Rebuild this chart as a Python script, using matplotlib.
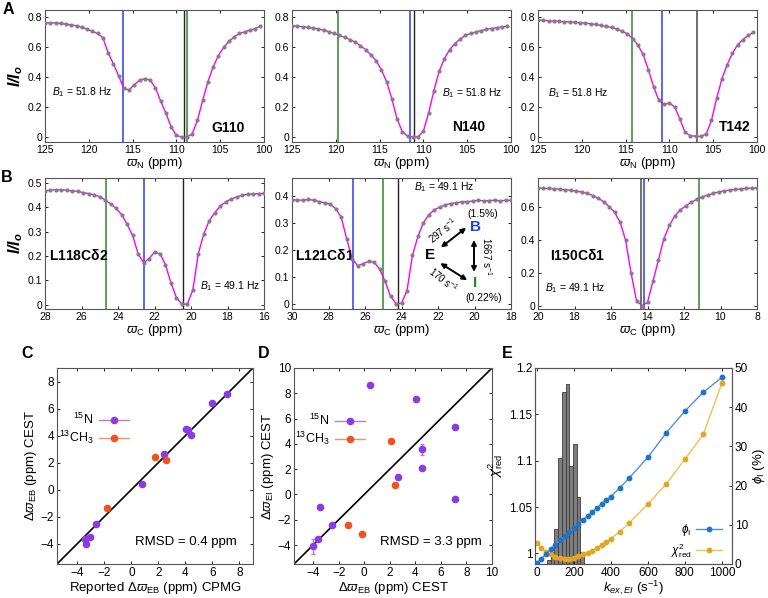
import numpy as np
import matplotlib
matplotlib.use('Agg')
import matplotlib.pyplot as plt
from matplotlib.lines import Line2D
from matplotlib.ticker import FormatStrFormatter

plt.rcParams['font.family'] = ['Liberation Sans', 'DejaVu Sans']
plt.rcParams['mathtext.fontset'] = 'custom'
plt.rcParams['mathtext.rm'] = 'Liberation Sans'
plt.rcParams['mathtext.it'] = 'Liberation Sans:italic'
plt.rcParams['mathtext.bf'] = 'Liberation Sans:bold'
plt.rcParams['mathtext.bfit'] = 'Liberation Sans:bold:italic'
plt.rcParams['mathtext.sf'] = 'Liberation Sans'
plt.rcParams['mathtext.fallback'] = 'stixsans'

# ---------------- data: CEST profiles (panel A, 15N) ----------------
offsets_N = [125.0, 124.4, 123.8, 123.2, 122.6, 122.0, 121.4, 120.8, 120.2, 119.6,
             119.0, 118.4, 117.8, 117.2, 116.6, 116.0, 115.4, 114.8, 114.2, 113.6,
             113.0, 112.4, 111.8, 111.2, 110.6, 110.0, 109.4, 108.8, 108.2, 107.6,
             107.0, 106.4, 105.8, 105.2, 104.6, 104.0, 103.4, 102.8, 102.2, 101.6,
             101.0, 100.4]
G110 = [0.764, 0.764, 0.763, 0.760, 0.755, 0.750, 0.744, 0.735, 0.722, 0.708,
        0.693, 0.665, 0.565, 0.49, 0.41, 0.325, 0.315, 0.35, 0.38, 0.39,
        0.38, 0.33, 0.24, 0.16, 0.067, 0.01, 0.0, 0.0, 0.02, 0.11,
        0.245, 0.37, 0.47, 0.545, 0.60, 0.64, 0.67, 0.693, 0.704, 0.715,
        0.726, 0.742]
N140 = [0.745, 0.742, 0.738, 0.733, 0.728, 0.722, 0.715, 0.705, 0.693, 0.68,
        0.667, 0.652, 0.635, 0.612, 0.585, 0.55, 0.51, 0.45, 0.37, 0.255,
        0.12, 0.035, 0.005, 0.0, 0.0, 0.04, 0.16, 0.31, 0.44, 0.525,
        0.585, 0.625, 0.655, 0.68, 0.693, 0.703, 0.712, 0.72, 0.726, 0.732,
        0.737, 0.742]
T142 = [0.782, 0.78, 0.778, 0.776, 0.774, 0.772, 0.77, 0.768, 0.765, 0.762,
        0.758, 0.753, 0.747, 0.74, 0.733, 0.723, 0.708, 0.69, 0.659, 0.615,
        0.552, 0.45, 0.335, 0.245, 0.218, 0.228, 0.2, 0.12, 0.03, 0.008,
        0.005, 0.003, 0.02, 0.11, 0.26, 0.39, 0.485, 0.56, 0.618, 0.652,
        0.68, 0.7]

# ---------------- data: CEST profiles (panel B, 13C methyl) ----------------
offsets_C_rel = [0.0, 0.3, 0.6, 0.9, 1.2, 1.5, 1.8, 2.1, 2.4, 2.7, 3.0, 3.3, 3.6, 3.9,
                 4.2, 4.5, 4.8, 5.1, 5.4, 5.7, 6.0, 6.3, 6.6, 6.9, 7.2, 7.5, 7.8, 8.1,
                 8.4, 8.7, 9.0, 9.3, 9.6, 9.9, 10.2, 10.5, 10.8, 11.1, 11.4, 11.7, 12.0]
L118_start, L121_start, I150_start = 28.0, 30.0, 20.0
L118 = [0.468, 0.47, 0.472, 0.472, 0.47, 0.467, 0.465, 0.46, 0.456, 0.451,
        0.443, 0.43, 0.413, 0.395, 0.37, 0.33, 0.285, 0.21, 0.172, 0.19,
        0.215, 0.21, 0.165, 0.09, 0.03, 0.003, 0.003, 0.06, 0.21, 0.29,
        0.345, 0.378, 0.404, 0.422, 0.434, 0.442, 0.449, 0.453, 0.455, 0.456, 0.457]
L121 = [0.385, 0.384, 0.383, 0.386, 0.383, 0.378, 0.374, 0.368, 0.352, 0.32,
        0.24, 0.168, 0.142, 0.15, 0.158, 0.155, 0.13, 0.085, 0.03, 0.003,
        0.004, 0.05, 0.18, 0.25, 0.3, 0.33, 0.348, 0.358, 0.366, 0.371,
        0.374, 0.377, 0.378, 0.38, 0.383, 0.381, 0.382, 0.383, 0.381, 0.383, 0.383]
I150 = [0.718, 0.717, 0.716, 0.714, 0.712, 0.708, 0.704, 0.7, 0.694, 0.686,
        0.673, 0.657, 0.635, 0.605, 0.57, 0.51, 0.40, 0.2, 0.03, 0.0,
        0.02, 0.15, 0.28, 0.41, 0.49, 0.55, 0.585, 0.61, 0.632, 0.65,
        0.664, 0.676, 0.686, 0.695, 0.701, 0.706, 0.71, 0.713, 0.716, 0.718, 0.72]

# state chemical shifts (vertical lines): (E, B, I)
shifts_G110 = (109.1, 116.1, 108.8)
shifts_N140 = (111.05, 111.5, 119.75)
shifts_T142 = (106.8, 110.9, 114.3)
shifts_L118 = (20.45, 22.6, 24.66)
shifts_L121 = (24.18, 26.64, 25.0)
shifts_I150 = (14.37, 14.2, 11.2)

# ---------------- data: panel C ----------------
C_N_cpmg = [7.05, 5.95, 4.05, 4.2, 4.45, 2.4, 0.8, -2.58, -3.08, -3.45, -3.38]
C_N_cest = [7.07, 6.43, 4.5, 4.45, 4.01, 2.64, 0.39, -2.54, -3.47, -3.65, -4.01]
C_C_cpmg = [1.73, 2.58, -1.8]
C_C_cest = [2.41, 2.17, -1.35]

# ---------------- data: panel D ----------------
D_N_eb = [0.45, 4.03, 7.12, 4.5, 4.5, 2.64, 7.07, -3.43, -2.49, -3.61, -3.98]
D_N_ei = [8.68, 7.54, 5.37, 3.57, 2.12, 1.35, -0.37, -0.98, -2.38, -3.54, -4.1]
D_N_err = [0, 0, 0, 0.45, 0, 0, 0, 0, 0, 0, 0.6]
D_C_eb = [2.12, 2.4, -1.31, -0.16]
D_C_ei = [4.23, 0.78, -2.38, -3.15]

# ---------------- data: panel E ----------------
kex = [0, 25, 50, 75, 100, 125, 150, 175, 200, 225, 250, 275, 300, 325, 350, 375,
       400, 450, 500, 600, 700, 800, 900, 1000]
phiI = [0.2, 1.4, 2.6, 3.7, 4.9, 6.0, 7.1, 8.2, 9.3, 10.3, 11.3, 12.3, 13.3, 14.3,
        15.3, 16.3, 17.2, 19.5, 22.0, 27.2, 33.5, 39.0, 43.8, 47.6]
chi2 = [1.0115, 1.0055, 1.0015, 0.999, 0.9965, 0.9945, 0.9935, 0.994, 0.995, 0.997,
        0.999, 1.0005, 1.003, 1.006, 1.009, 1.0125, 1.016, 1.0235, 1.033, 1.053,
        1.075, 1.1015, 1.1285, 1.1835]
hist_left = [55, 75, 95, 115, 135, 155, 175, 195, 215, 235]
hist_frac = [0.02, 0.06, 0.18, 0.54, 0.88, 0.92, 0.50, 0.61, 0.34, 0.06]

# ---------------- style ----------------
PURPLE = '#8A3BE3'
PURPLE_L = '#B07CF0'
RED = '#F0531F'
RED_L = '#F59070'
BLUE_V = '#2B3BF5'
GREEN_V = '#2A8A2A'
BLACK_V = '#222222'
BLUE_E = '#1F74C8'
BLUE_EL = '#4B92DA'
ORANGE_E = '#E3A622'
ORANGE_EL = '#EFC055'

W, H = 768, 598
fig = plt.figure(figsize=(W / 100, H / 100), dpi=100)


def rect(l, t, r, b):
    return [l / W, 1 - b / H, (r - l) / W, (b - t) / H]


def style(ax, fs=7.5, top=True, right=True):
    ax.tick_params(direction='in', length=2.5, width=0.6, labelsize=fs,
                   top=top, right=right, pad=2)
    for s in ax.spines.values():
        s.set_color('#555555')
        s.set_linewidth(0.8)


def cest(ax, x, y, xlim, ylim, yticks, xticks, shifts, gray_e=False):
    e, b, i = shifts
    ax.axvline(b, color=BLUE_V, lw=1.1, zorder=1)
    ax.axvline(i, color=GREEN_V, lw=1.1, zorder=1)
    ax.axvline(e, color=('#707070' if gray_e else BLACK_V),
               lw=(1.4 if gray_e else 1.0), zorder=1)
    ax.plot(x, y, color='#FF00FF', lw=1.0, zorder=3)
    ax.plot(x, y, 'o', color='#808080', ms=3.0, mec='none', zorder=4)
    ax.set_xlim(*xlim)
    ax.set_ylim(*ylim)
    ax.set_yticks(yticks)
    ax.set_xticks(xticks)
    ax.yaxis.set_major_formatter(FormatStrFormatter('%g'))
    style(ax)


ylab = r'$\mathbfit{I/I_o}$'

# ---- Row A ----
a_rects = [rect(45, 10, 264, 142), rect(292, 10, 511, 142), rect(538, 10, 757, 142)]
a_data = [(G110, shifts_G110, False), (N140, shifts_N140, False), (T142, shifts_T142, True)]
a_axes = []
for r, (yy, sh, ge) in zip(a_rects, a_data):
    ax = fig.add_axes(r)
    cest(ax, offsets_N, yy, (125, 100), (-0.034, 0.85), [0, 0.2, 0.4, 0.6, 0.8],
         [125, 120, 115, 110, 105, 100], sh, ge)
    ax.set_xlabel(r'$\varpi_{\rm N}$ (ppm)', fontsize=9.5, labelpad=0)
    a_axes.append(ax)
a_axes[0].set_ylabel(ylab, fontsize=11.5, labelpad=2)
b1N = r'$B_1$ = 51.8 Hz'
a_axes[0].text(0.032, 0.379, b1N, transform=a_axes[0].transAxes, fontsize=7.5, va='center')
a_axes[0].text(0.913, 0.106, 'G110', transform=a_axes[0].transAxes, fontsize=10,
               fontweight='bold', ha='right', va='center')
a_axes[1].text(0.685, 0.371, b1N, transform=a_axes[1].transAxes, fontsize=7.5, va='center')
a_axes[1].text(0.805, 0.114, 'N140', transform=a_axes[1].transAxes, fontsize=10,
               fontweight='bold', ha='center', va='center')
a_axes[2].text(0.046, 0.371, b1N, transform=a_axes[2].transAxes, fontsize=7.5, va='center')
a_axes[2].text(0.968, 0.114, 'T142', transform=a_axes[2].transAxes, fontsize=10,
               fontweight='bold', ha='right', va='center')

# ---- Row B ----
b_rects = [rect(45, 178, 264, 309), rect(292, 178, 511, 309), rect(538, 178, 757, 309)]
xs_L118 = [L118_start - v for v in offsets_C_rel]
xs_L121 = [L121_start - v for v in offsets_C_rel]
xs_I150 = [I150_start - v for v in offsets_C_rel]
b_axes = []
ax = fig.add_axes(b_rects[0])
cest(ax, xs_L118, L118, (28, 16), (-0.017, 0.52), [0, 0.1, 0.2, 0.3, 0.4, 0.5],
     [28, 26, 24, 22, 20, 18, 16], shifts_L118)
b_axes.append(ax)
ax = fig.add_axes(b_rects[1])
cest(ax, xs_L121, L121, (30, 18), (-0.017, 0.465), [0, 0.1, 0.2, 0.3, 0.4],
     [30, 28, 26, 24, 22, 20, 18], shifts_L121)
b_axes.append(ax)
ax = fig.add_axes(b_rects[2])
cest(ax, xs_I150, I150, (20, 8), (-0.02, 0.78), [0, 0.2, 0.4, 0.6],
     [20, 18, 16, 14, 12, 10, 8], shifts_I150, gray_e=True)
b_axes.append(ax)
for ax in b_axes:
    ax.set_xlabel(r'$\varpi_{\rm C}$ (ppm)', fontsize=9.5, labelpad=0)
b_axes[0].set_ylabel(ylab, fontsize=11.5, labelpad=2)
b1C = r'$B_1$ = 49.1 Hz'
b_axes[0].text(0.02, 0.412, r'L118C$\mathbf{\delta}$2', transform=b_axes[0].transAxes,
               fontsize=10, fontweight='bold', va='center')
b_axes[0].text(0.708, 0.176, b1C, transform=b_axes[0].transAxes, fontsize=7.5, va='center')
b_axes[1].text(0.012, 0.412, r'L121C$\mathbf{\delta}$1', transform=b_axes[1].transAxes,
               fontsize=10, fontweight='bold', va='center')
b_axes[1].text(0.558, 0.931, b1C, transform=b_axes[1].transAxes, fontsize=7.5, va='center')
b_axes[2].text(0.055, 0.412, r'I150C$\mathbf{\delta}$1', transform=b_axes[2].transAxes,
               fontsize=10, fontweight='bold', va='center')
b_axes[2].text(0.032, 0.16, b1C, transform=b_axes[2].transAxes, fontsize=7.5, va='center')

# kinetic scheme in L121 panel
kax = b_axes[1]
tr = kax.transAxes
kax.text(0.63, 0.41, 'E', transform=tr, fontsize=11, fontweight='bold', ha='center', va='center')
kax.text(0.836, 0.626, 'B', transform=tr, fontsize=11, fontweight='bold', color='#1E40F0',
         ha='center', va='center')
kax.text(0.836, 0.195, 'I', transform=tr, fontsize=11, fontweight='bold', color='#1E8C1E',
         ha='center', va='center')
kax.text(0.872, 0.725, '(1.5%)', transform=tr, fontsize=7.5, ha='center', va='center')
kax.text(0.877, 0.084, '(0.22%)', transform=tr, fontsize=7.5, ha='center', va='center')
arw = dict(arrowstyle='<|-|>', color='k', lw=1.4, mutation_scale=7, shrinkA=0, shrinkB=0)
kax.annotate('', xy=(0.795, 0.62), xytext=(0.68, 0.47), xycoords='axes fraction',
             textcoords='axes fraction', arrowprops=arw)
kax.annotate('', xy=(0.80, 0.22), xytext=(0.677, 0.35), xycoords='axes fraction',
             textcoords='axes fraction', arrowprops=arw)
kax.annotate('', xy=(0.831, 0.283), xytext=(0.831, 0.527), xycoords='axes fraction',
             textcoords='axes fraction', arrowprops=arw)
kax.text(0.69, 0.6, r'297 s$^{-1}$', transform=tr, fontsize=7, rotation=38,
         ha='center', va='center')
kax.text(0.69, 0.22, r'170 s$^{-1}$', transform=tr, fontsize=7, rotation=-38,
         ha='center', va='center')
kax.text(0.888, 0.405, r'1667 s$^{-1}$', transform=tr, fontsize=7, rotation=-90,
         ha='center', va='center')

# ---- Panel C ----
axc = fig.add_axes(rect(57, 368, 253, 564))
axc.axline((0, 0), slope=1, color='k', lw=1.2, zorder=1)
axc.plot(C_N_cpmg, C_N_cest, 'o', color=PURPLE, ms=5.5, mec='none', zorder=3)
axc.plot(C_C_cpmg, C_C_cest, 'o', color=RED, ms=5.5, mec='none', zorder=3)
axc.set_xlim(-5.5, 9)
axc.set_ylim(-5.5, 9)
axc.set_xticks([-4, -2, 0, 2, 4, 6, 8])
axc.set_yticks([-4, -2, 0, 2, 4, 6, 8])
style(axc, fs=8.5)
axc.set_xlabel(r'Reported $\Delta\varpi_{\rm EB}$ (ppm) CPMG', fontsize=9.5, labelpad=1)
axc.set_ylabel(r'$\Delta\varpi_{\rm EB}$ (ppm) CEST', fontsize=9.5, labelpad=1)
axc.text(0.918, 0.112, 'RMSD = 0.4 ppm', transform=axc.transAxes, fontsize=9.5,
         ha='right', va='center')

legend_handles = [
    Line2D([], [], color=PURPLE_L, lw=1, marker='o', ms=5.5, mfc=PURPLE, mec='none'),
    Line2D([], [], color=RED_L, lw=1, marker='o', ms=5.5, mfc=RED, mec='none'),
]
legend_labels = [r'$^{15}$N', r'$^{13}$CH$_3$']
axc.legend(legend_handles, legend_labels, loc='upper right', bbox_to_anchor=(0.365, 0.775),
           frameon=False, markerfirst=False, fontsize=9, handlelength=2.4,
           handletextpad=0.4, labelspacing=0.15, borderpad=0, borderaxespad=0)

# ---- Panel D ----
axd = fig.add_axes(rect(294, 368, 492, 564))
axd.axline((0, 0), slope=1, color='k', lw=1.2, zorder=1)
axd.errorbar(D_N_eb, D_N_ei, yerr=D_N_err, fmt='o', color=PURPLE, ms=5.5, mec='none',
             ecolor=PURPLE_L, elinewidth=1, capsize=1.5, zorder=3)
axd.plot(D_C_eb, D_C_ei, 'o', color=RED, ms=5.5, mec='none', zorder=3)
axd.set_xlim(-5.5, 10)
axd.set_ylim(-5.5, 10)
axd.set_xticks([-4, -2, 0, 2, 4, 6, 8, 10])
axd.set_yticks([-4, -2, 0, 2, 4, 6, 8, 10])
style(axd, fs=8.5)
axd.set_xlabel(r'$\Delta\varpi_{\rm EB}$ (ppm) CEST', fontsize=9.5, labelpad=1)
axd.set_ylabel(r'$\Delta\varpi_{\rm EI}$ (ppm) CEST', fontsize=9.5, labelpad=1)
axd.text(0.95, 0.112, 'RMSD = 3.3 ppm', transform=axd.transAxes, fontsize=9.5,
         ha='right', va='center')
axd.legend(legend_handles, legend_labels, loc='upper right', bbox_to_anchor=(0.357, 0.77),
           frameon=False, markerfirst=False, fontsize=9, handlelength=2.4,
           handletextpad=0.4, labelspacing=0.15, borderpad=0, borderaxespad=0)

# ---- Panel E ----
rE = rect(535, 368, 732, 564)
axh = fig.add_axes(rE)
axh.bar(hist_left, hist_frac, width=20, align='edge', color='#7d7d7d',
        edgecolor='#3c3c3c', lw=0.6)
axh.set_xlim(-10, 1055)
axh.set_ylim(0, 1)
axh.axis('off')
axh.set_zorder(0)

axe = fig.add_axes(rE)
axe.set_zorder(1)
axe.patch.set_visible(False)
axe.plot(kex, chi2, '-', color=ORANGE_EL, lw=1.0, zorder=2)
axe.plot(kex, chi2, 'o', color=ORANGE_E, ms=4.2, mec='none', zorder=3)
axe.set_xlim(-10, 1055)
axe.set_ylim(0.9885, 1.2)
axe.set_yticks([1, 1.05, 1.1, 1.15, 1.2])
axe.set_xticks([0, 200, 400, 600, 800, 1000])
axe.yaxis.set_major_formatter(FormatStrFormatter('%g'))
style(axe, fs=8.5, right=False)
axe.set_ylabel(r'$\chi^2_{\rm red}$', fontsize=9.5, labelpad=3)
axe.set_xlabel(r'$k_{ex,EI}$ (s$^{-1}$)', fontsize=9.5, labelpad=0)

axe2 = axe.twinx()
axe2.set_zorder(2)
axe2.patch.set_visible(False)
axe2.plot(kex, phiI, '-', color=BLUE_EL, lw=1.0, zorder=2)
axe2.plot(kex, phiI, 'o', color=BLUE_E, ms=4.2, mec='none', zorder=3)
axe2.set_ylim(0, 50)
axe2.set_yticks([0, 10, 20, 30, 40, 50])
axe2.tick_params(direction='in', length=2.5, width=0.6, labelsize=8.5, pad=2)
for s in axe2.spines.values():
    s.set_color('#555555')
    s.set_linewidth(0.8)
axe2.set_ylabel(r'$\phi_{\rm I}$ (%)', fontsize=9.5, labelpad=2)
e_handles = [
    Line2D([], [], color=BLUE_EL, lw=1, marker='o', ms=4.2, mfc=BLUE_E, mec='none'),
    Line2D([], [], color=ORANGE_EL, lw=1, marker='o', ms=4.2, mfc=ORANGE_E, mec='none'),
]
axe2.legend(e_handles, [r'$\phi_{\rm I}$', r'$\chi^2_{\rm red}$'], loc='lower right',
            bbox_to_anchor=(0.95, 0.02), frameon=False, markerfirst=False, fontsize=8.5,
            handlelength=2.2, handletextpad=0.4, labelspacing=0.3, borderpad=0,
            borderaxespad=0)

# ---- panel letters ----
for lab, x, y in [('A', 8, 9), ('B', 7, 177), ('C', 27, 353), ('D', 264, 353), ('E', 507, 353)]:
    fig.text(x / W, 1 - y / H, lab, fontsize=11.5, fontweight='bold', ha='center', va='center')

fig.savefig('out.png', dpi=100)
